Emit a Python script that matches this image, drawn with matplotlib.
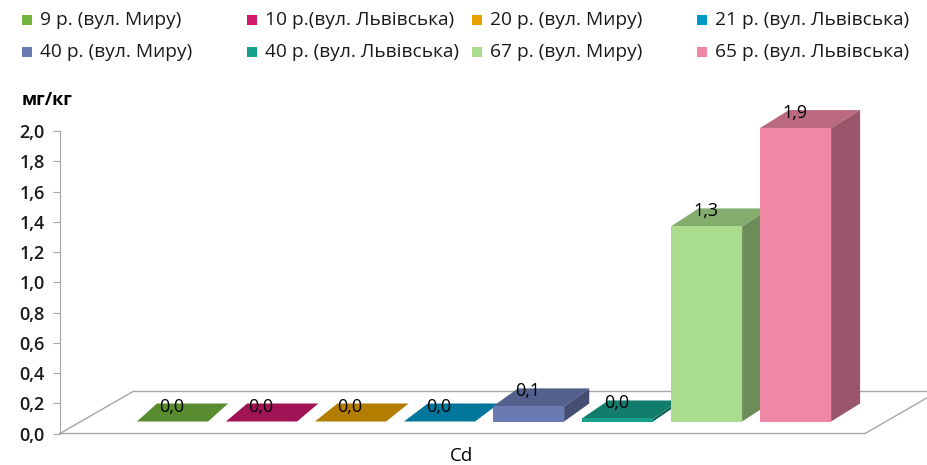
import numpy as np
import matplotlib
matplotlib.use("Agg")
import matplotlib.pyplot as plt
from matplotlib.patches import Polygon, Rectangle

plt.rcParams['font.family'] = ['Open Sans', 'DejaVu Sans']

# data
names = ['9 р. (вул. Миру)', '10 р.(вул. Львівська)', '20 р. (вул. Миру)', '21 р. (вул. Львівська)',
         '40 р. (вул. Миру)', '40 р. (вул. Львівська)', '67 р. (вул. Миру)', '65 р. (вул. Львівська)']
values = [0.0, 0.0, 0.0, 0.0, 0.1, 0.02, 1.29, 1.94]
colors = ['#72b33d', '#d0186d', '#e6a000', '#0099c6', '#6a7ab3', '#17a08a', '#a9dc8c', '#ef87a5']
yticks = np.arange(0, 2.01, 0.2)
category = 'Cd'
unit = 'мг/кг'

W, H = 928, 465
fig = plt.figure(figsize=(W / 100, H / 100), dpi=100)
ax = fig.add_axes([0, 0, 1, 1])

# pixel <-> data mapping for the fake 3d look
px_x = 89.0        # px per category
px_y = 151.25      # px per unit
x0_px, y0_px = 172.5, 433.5
ax.set_xlim(-x0_px / px_x, (W - x0_px) / px_x)
ax.set_ylim((y0_px - H) / px_y, y0_px / px_y)

def dx(p):
    return p / px_x

def dy(p):
    return p / px_y

# floor
axis_x = dx(60 - x0_px)
floor_r = dx(865 - x0_px)
fd_x, fd_y = dx(73), dy(42)
ax.plot([axis_x, floor_r, floor_r + fd_x, axis_x + fd_x, axis_x],
        [0, 0, fd_y, fd_y, 0], color='#a6a6a6', lw=1, zorder=1, clip_on=True)

# bars with depth
base = dy(12)
width = 0.8
xs = np.arange(len(values))
def shade(c, f):
    r, g, b = matplotlib.colors.to_rgb(c)
    return (r * f, g * f, b * f)

for i, (x, v, c) in enumerate(zip(xs, values, colors)):
    z = 2 + i
    ddx = dx(20 + 9 * i / (len(values) - 1))
    ddy = dy(18)
    xl, xr = x - width / 2, x + width / 2
    top = base + v
    ax.bar(x, v, bottom=base, width=width, color=c, linewidth=0, zorder=z + 0.2)
    ax.add_patch(Polygon([(xl, top), (xr, top), (xr + ddx, top + ddy), (xl + ddx, top + ddy)],
                         closed=True, facecolor=shade(c, 0.78), lw=0, zorder=z + 0.1))
    if v > 0:
        ax.add_patch(Polygon([(xr, base), (xr, top), (xr + ddx, top + ddy), (xr + ddx, base + ddy)],
                             closed=True, facecolor=shade(c, 0.64), lw=0, zorder=z))
    ax.annotate(f'{v:.1f}'.replace('.', ','), (x, top), xytext=(-1, 15), textcoords='offset pixels',
                ha='center', va='center', fontsize=13, fontweight='medium', color='black', zorder=20)

# y axis
for s in ['top', 'right', 'bottom']:
    ax.spines[s].set_visible(False)
ax.spines['left'].set_position(('data', axis_x))
ax.spines['left'].set_bounds(0, 2.0)
ax.spines['left'].set_color('#a6a6a6')
ax.set_yticks(yticks)
ax.set_yticklabels([f'{t:.1f}'.replace('.', ',') for t in yticks], fontsize=13, fontweight='semibold')
ax.tick_params(axis='y', direction='out', length=5, color='#a6a6a6', pad=6, labelcolor='#1a1a1a')
ax.set_xticks([])

fig.text(47 / W, 1 - 100 / H, unit, ha='center', va='center', fontsize=13, fontweight='bold')
fig.text(462 / W, 1 - 456 / H, category, ha='center', va='center', fontsize=13.5)

# legend laid out like the excel one
for i, (n, c) in enumerate(zip(names, colors)):
    col, row = i % 4, i // 4
    lx = 22 + 225 * col
    ly = 20 + 32 * row
    fig.patches.append(Rectangle((lx / W, 1 - (ly + 5) / H), 10 / W, 10 / H,
                                 transform=fig.transFigure, facecolor=c, lw=0))
    fig.text((lx + 18) / W, 1 - ly / H, n, ha='left', va='center', fontsize=13.8, color='#1a1a1a')

fig.savefig('out.png', dpi=100)
